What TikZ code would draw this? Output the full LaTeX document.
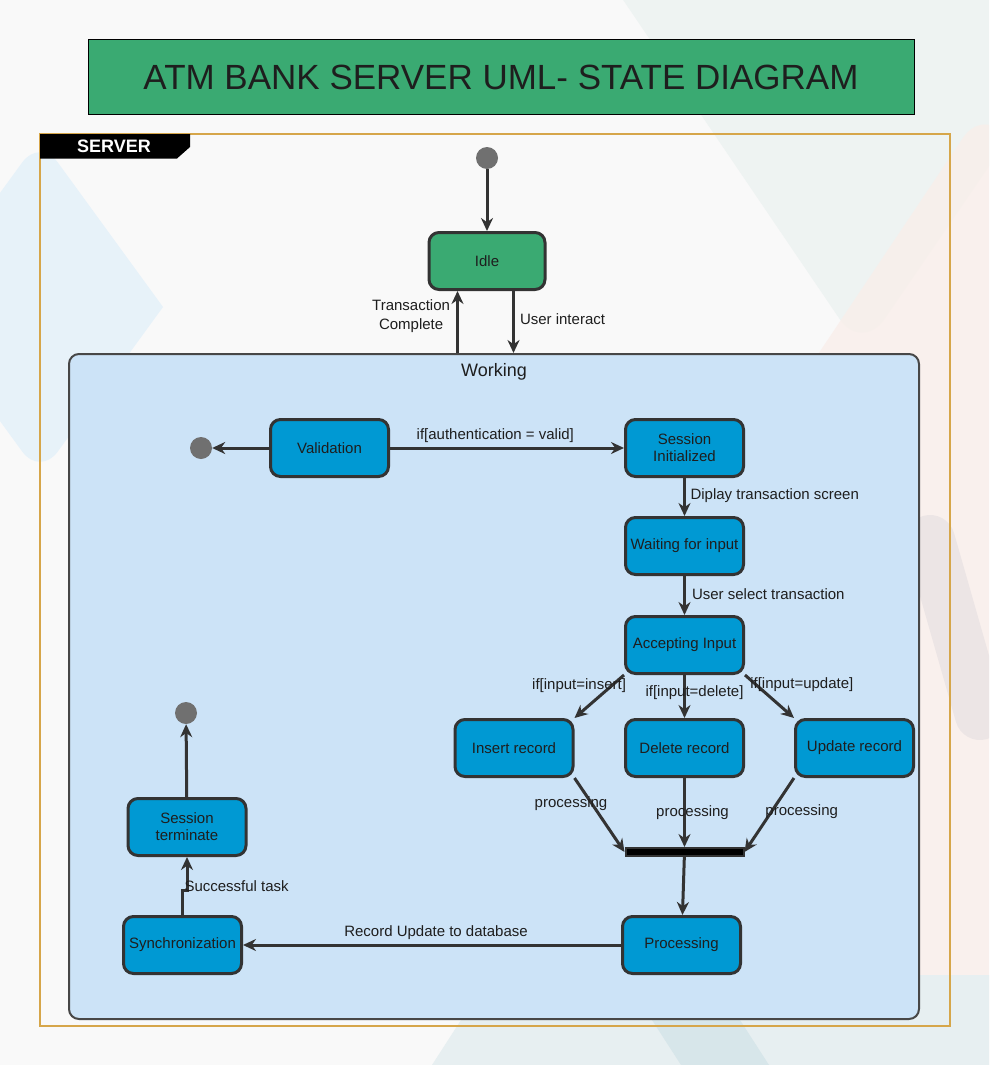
\documentclass[tikz,border=0pt]{standalone}
\usepackage{fontspec}
\setmainfont{Liberation Sans}
\usepackage{tikz}
\usetikzlibrary{ % tikz packages
    positioning,
    arrows.meta
}
\definecolor{pagebg}{HTML}{F9F9F9}
\definecolor{bgblue}{HTML}{E7F2F9}
\definecolor{bggrey}{HTML}{EEF3F2}
\definecolor{bgpink}{HTML}{F9EEEA}
\definecolor{bgband}{HTML}{ECE5E5}
\definecolor{bgbottom}{HTML}{E7EFF1}
\definecolor{bgbottomdark}{HTML}{D7E6EA}
\definecolor{titlegreen}{HTML}{3AAA72}
\definecolor{nodeblue}{HTML}{0099D3}
\definecolor{workblue}{HTML}{CCE3F7}
\definecolor{edgegray}{HTML}{333333}
\definecolor{dotgray}{HTML}{707070}
\definecolor{framegold}{HTML}{D6A64A}
\definecolor{inktext}{HTML}{1E1E1E}
\tikzset{
    umlstate/.style={
        draw=edgegray, line width=3pt, fill=nodeblue,
        rounded corners=10pt, minimum width=118pt, minimum height=57pt,
        inner sep=2pt, align=center, text=inktext,
        font=\fontsize{15}{17}\selectfont
    },
    idlestate/.style={umlstate, fill=titlegreen, minimum width=116pt},
    endpoint/.style={circle, fill=dotgray, minimum size=22pt, inner sep=0pt},
    joinbar/.style={draw=edgegray, line width=2pt, fill=black,
        minimum width=118pt, minimum height=8pt, inner sep=0pt},
    workbox/.style={draw=edgegray!90, line width=2pt, fill=workblue,
        rounded corners=10pt, minimum width=850pt, minimum height=665pt},
    lbl/.style={font=\fontsize{15}{17}\selectfont, text=inktext, inner sep=2pt},
    trans/.style={->, line width=3pt,
        every edge/.style={draw=edgegray, line width=3pt}}
}
\tikzset{>={Stealth[length=13pt,width=12pt]}}

\begin{document}
\begin{tikzpicture}[x=1pt,y=-1pt,on grid]
            % background
            \useasboundingbox (0,0) rectangle (989,1065);
            \fill[pagebg] (0,0) rectangle (989,1065);
            \begin{scope}
                \clip (0,0) rectangle (989,1065);
                \fill[bgblue] (-83,307) [rounded corners=30pt] -- (40,138) [sharp corners] -- (163,307)
                    [rounded corners=30pt] -- (40,476) [sharp corners] -- cycle;
                \fill[bggrey, rounded corners=40pt] (596,-40) -- (862,352) -- (1130,-40) -- cycle;
                \fill[bgpink, opacity=.8, rounded corners=40pt] (985,105) -- (640,620) -- (985,1135) -- (1330,620) -- cycle;
                \draw[bgband, line width=50pt, line cap=round] (930,540) -- (980,715);
                \fill[bgbottom] (432,1065) -- (490,975) -- (989,975) -- (989,1065) -- cycle;
                \fill[bgbottomdark] (623,975) -- (711,975) -- (769,1065) -- (681,1065) -- cycle;
            \end{scope}

            % title and frame
            \node[draw=black, line width=1pt, fill=titlegreen, minimum width=826pt,
                minimum height=74pt, text=inktext, font=\fontsize{35}{40}\selectfont]
                (title) at (501,77) {ATM BANK SERVER UML- STATE DIAGRAM};
            \draw[framegold, line width=1.2pt] (40,134) rectangle (950,1026);
            \fill[black] (40,134) -- (190,134) -- (190,147) -- (177,158.5) -- (40,158.5) -- cycle;
            \node[text=white, font=\bfseries\fontsize{18}{20}\selectfont, inner sep=0pt]
                (server) at (114,146) {SERVER};

            \node[endpoint] (start) at (487,158) {};
            \node[idlestate] (idle) [below=103pt of start] {Idle};
            \node[workbox] (working) at (494,686.5) {};
            \node[lbl, font=\fontsize{18}{20}\selectfont] (worklbl) [below=8pt of working.north] {Working};

            \node[umlstate] (valid) at (329.5,448) {Validation};
            \node[endpoint] (fin1) [left=128.5pt of valid] {};
            \node[umlstate] (sessinit) [right=355pt of valid] {Session\\Initialized};
            \node[umlstate] (waiting) [below=98pt of sessinit] {Waiting for input};
            \node[umlstate] (accept) [below=99pt of waiting] {Accepting Input};
            \node[umlstate] (delete) [below=103pt of accept] {Delete record};
            \node[umlstate] (insert) [left=170.5pt of delete] {Insert record};
            \node[umlstate] (update) [right=170pt of delete] {Update record};
            \node[joinbar] (bar) [below=104pt of delete] {};
            \node[umlstate] (proc) [below=93pt of bar, xshift=-3pt] {Processing};
            \node[umlstate] (sync) [left=499pt of proc] {Synchronization};
            \node[umlstate] (sessterm) [above=118pt of sync, xshift=4.5pt] {Session\\terminate};
            \node[endpoint] (fin2) [above=114pt of sessterm, xshift=-1pt] {};

            \coordinate (tctop) at ([xshift=-29.5pt]idle.south);
            \coordinate (uitop) at ([xshift=26.5pt]idle.south);

            \path[trans]
                (start)
                    edge (idle)
                (tctop |- working.north)
                    edge node[lbl, left, align=center, xshift=-4pt, yshift=6pt] {Transaction\\[2pt]Complete} (tctop)
                (uitop)
                    edge node[lbl, right, xshift=3pt, yshift=3pt] {User interact} (uitop |- working.north)
                (valid)
                    edge (fin1)
                    edge node[lbl, above, pos=.45, yshift=2pt] {if[authentication = valid]} (sessinit)
                (sessinit)
                    edge node[lbl, right, xshift=2.5pt, yshift=1pt] {Diplay transaction screen} (waiting)
                (waiting)
                    edge node[lbl, right, xshift=4pt, yshift=1pt] {User select transaction} (accept)
                (accept.south west)
                    edge node[lbl, pos=.2, xshift=-35pt, yshift=-2pt] {if[input=insert]} (insert.north east)
                (accept)
                    edge node[lbl, pos=.4, xshift=10pt] {if[input=delete]} (delete)
                (accept.south east)
                    edge node[lbl, pos=.2, xshift=47pt, yshift=-1pt] {if[input=update]} (update.north west)
                (insert.south east)
                    edge node[lbl, pos=.35, xshift=-21pt] {processing} (bar.west)
                (delete)
                    edge node[lbl, midway, xshift=8pt] {processing} (bar)
                (update.south west)
                    edge node[lbl, pos=.45, xshift=30pt] {processing} (bar.east)
                (bar)
                    edge (proc)
                (proc)
                    edge node[lbl, above, xshift=4pt, yshift=2pt] {Record Update to database} (sync)
                (sessterm)
                    edge (fin2);
            \draw[trans, edgegray] (sync.north) -- ++(0,-25)
                node[lbl, right, xshift=-1.5pt, yshift=3.5pt] {Successful task} -| (sessterm.south);
        \end{tikzpicture}
\end{document}
